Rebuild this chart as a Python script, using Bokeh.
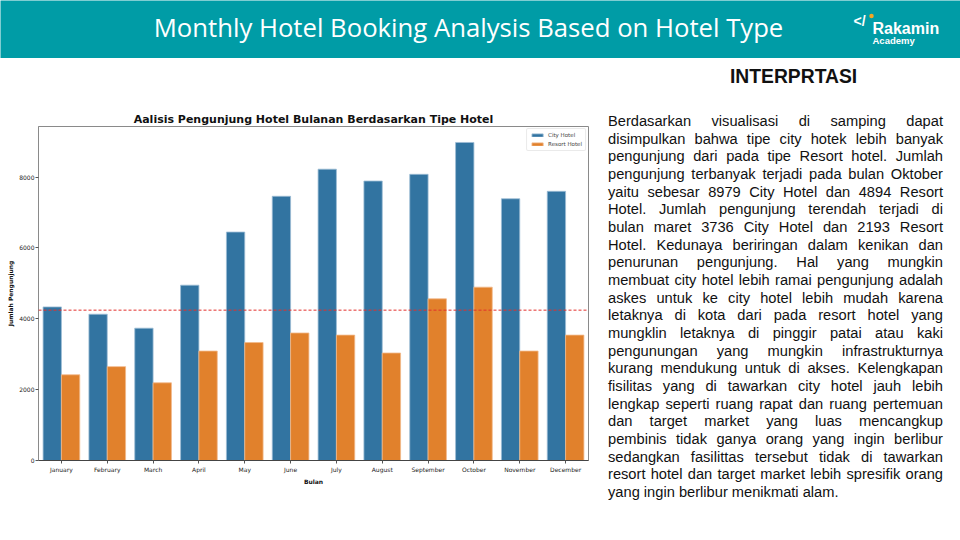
from bokeh.core.properties import value
from bokeh.embed import file_html
from bokeh.layouts import column, row
from bokeh.models import ColumnDataSource, Div, FactorRange, Range1d, Span
from bokeh.plotting import figure
from bokeh.resources import INLINE
from bokeh.transform import dodge

# ---------- data ----------
months = ["January", "February", "March", "April", "May", "June",
          "July", "August", "September", "October", "November", "December"]
city_hotel = [4336, 4130, 3736, 4950, 6450, 7460, 8225, 7890, 8080, 8979, 7390, 7600]
resort_hotel = [2420, 2650, 2193, 3090, 3330, 3600, 3540, 3035, 4565, 4894, 3090, 3540]
ref_line = 4245
y_ticks = [0, 2000, 4000, 6000, 8000]
y_max = 9430

slide_title = "Monthly Hotel Booking Analysis Based on Hotel Type"
chart_title = "Aalisis Pengunjung Hotel Bulanan Berdasarkan Tipe Hotel"
side_title = "INTERPRTASI"
side_lines = [
    "Berdasarkan visualisasi di samping dapat",
    "disimpulkan bahwa tipe city hotek lebih banyak",
    "pengunjung dari pada tipe Resort hotel. Jumlah",
    "pengunjung terbanyak terjadi pada bulan Oktober",
    "yaitu sebesar 8979 City Hotel dan 4894 Resort",
    "Hotel. Jumlah pengunjung terendah terjadi di",
    "bulan maret 3736 City Hotel dan 2193 Resort",
    "Hotel. Kedunaya beriringan dalam kenikan dan",
    "penurunan pengunjung. Hal yang mungkin",
    "membuat city hotel lebih ramai pengunjung adalah",
    "askes untuk ke city hotel lebih mudah karena",
    "letaknya di kota dari pada resort hotel yang",
    "mungklin letaknya di pinggir patai atau kaki",
    "pengunungan yang mungkin infrastrukturnya",
    "kurang mendukung untuk di akses. Kelengkapan",
    "fisilitas yang di tawarkan city hotel jauh lebih",
    "lengkap seperti ruang rapat dan ruang pertemuan",
    "dan target market yang luas mencangkup",
    "pembinis tidak ganya orang yang ingin berlibur",
    "sedangkan fasilittas tersebut tidak di tawarkan",
    "resort hotel dan target market lebih spresifik orang",
    "yang ingin berlibur menikmati alam.",
]

TEAL = "#009ca6"
CITY = "#3274a1"
RESORT = "#e1812c"

# ---------- header band ----------
head = figure(width=960, height=58, x_range=Range1d(0, 960), y_range=Range1d(58, 0),
              toolbar_location=None, output_backend="svg", min_border=0,
              background_fill_color=TEAL, border_fill_color=TEAL, outline_line_color=None)
head.axis.visible = False
head.grid.visible = False
head.text(x=[468], y=[27], text=[slide_title], text_align="center", text_baseline="middle",
          text_font=value("Open Sans"), text_font_size="25.7px", text_color="white")
head.text(x=[853], y=[20], text=["</"], text_align="left", text_baseline="middle",
          text_font=value("Liberation Sans"), text_font_style="bold",
          text_font_size="14px", text_color="white")
head.scatter(x=[871], y=[15.5], size=4.5, color="#f5a623", line_color=None)
head.text(x=[872], y=[28], text=["Rakamin"], text_align="left", text_baseline="middle",
          text_font=value("Liberation Sans"), text_font_style="bold",
          text_font_size="16px", text_color="white")
head.text(x=[872], y=[39.5], text=["Academy"], text_align="left", text_baseline="middle",
          text_font=value("Liberation Sans"), text_font_style="bold",
          text_font_size="9.5px", text_color="white")

# ---------- chart ----------
src = ColumnDataSource(dict(month=months, city=city_hotel, resort=resort_hotel))

p = figure(x_range=FactorRange(factors=months), y_range=Range1d(0, y_max),
           frame_width=550, frame_height=334,
           min_border_left=38, min_border_right=12, min_border_top=68, min_border_bottom=80,
           toolbar_location=None, output_backend="svg",
           background_fill_color="white", border_fill_color="white",
           outline_line_color="#8a8a8a", outline_line_width=1)

p.vbar(x=dodge("month", -0.2, range=p.x_range), top="city", width=0.4, source=src,
       fill_color=CITY, line_color="#9dbcd6", line_width=0.8, legend_label="City Hotel")
p.vbar(x=dodge("month", 0.2, range=p.x_range), top="resort", width=0.4, source=src,
       fill_color=RESORT, line_color="#f1b98a", line_width=0.8, legend_label="Resort Hotel")

p.add_layout(Span(location=ref_line, dimension="width", line_color="#e3302c",
                  line_dash="3 2", line_width=1))

p.title.text = chart_title
p.title.text_font = "DejaVu Sans"
p.title.text_font_style = "bold"
p.title.text_font_size = "11px"
p.title.text_color = "#111111"
p.title.align = "center"
p.title.standoff = 2

p.xgrid.grid_line_color = None
p.ygrid.grid_line_color = None

p.yaxis.ticker = y_ticks
p.yaxis.axis_label = "Jumlah Pengunjung"
p.xaxis.axis_label = "Bulan"
for ax in (p.xaxis, p.yaxis):
    ax.major_label_text_font = "DejaVu Sans"
    ax.major_label_text_font_size = "6px"
    ax.major_label_text_color = "#222222"
    ax.axis_label_text_font = "DejaVu Sans"
    ax.axis_label_text_font_style = "bold"
    ax.axis_label_text_font_size = "6px"
    ax.axis_label_text_color = "#111111"
    ax.major_tick_in = 0
    ax.major_tick_out = 3
    ax.minor_tick_line_color = None
    ax.major_tick_line_color = "#555555"
    ax.major_label_standoff = 1
    ax.axis_label_standoff = 2
p.yaxis.axis_line_color = "#8a8a8a"
p.xaxis.axis_line_color = "#444444"
p.xaxis.major_label_standoff = 2

p.legend.location = "top_right"
p.legend.label_text_font = "DejaVu Sans"
p.legend.label_text_font_size = "5.5px"
p.legend.label_height = 6
p.legend.glyph_height = 4
p.legend.glyph_width = 14
p.legend.label_standoff = 4
p.legend.spacing = 3
p.legend.padding = 3
p.legend.margin = 2
p.legend.border_line_color = "#d6d6d6"
p.legend.border_radius = 2
p.legend.background_fill_alpha = 0.9

# ---------- interpretation panel ----------
body = ""
for i, ln in enumerate(side_lines):
    last = "left" if i == len(side_lines) - 1 else "justify"
    body += f'<div style="text-align:justify;text-align-last:{last};">{ln}</div>'

html = (
    '<div style="position:relative;width:360px;height:482px;'
    "font-family:'Liberation Sans',Arial,sans-serif;color:#111111;\">"
    '<div style="position:absolute;left:125px;top:3px;font-weight:bold;'
    f'font-size:19.3px;line-height:21px;">{side_title}</div>'
    '<div style="position:absolute;left:3px;top:50px;width:335px;'
    f'font-size:14.67px;line-height:17.67px;">{body}</div>'
    '</div>'
)
side = Div(text=html, width=360, height=482)

layout = column(head, row(p, side))
open("out.html", "w").write(file_html(layout, INLINE))
